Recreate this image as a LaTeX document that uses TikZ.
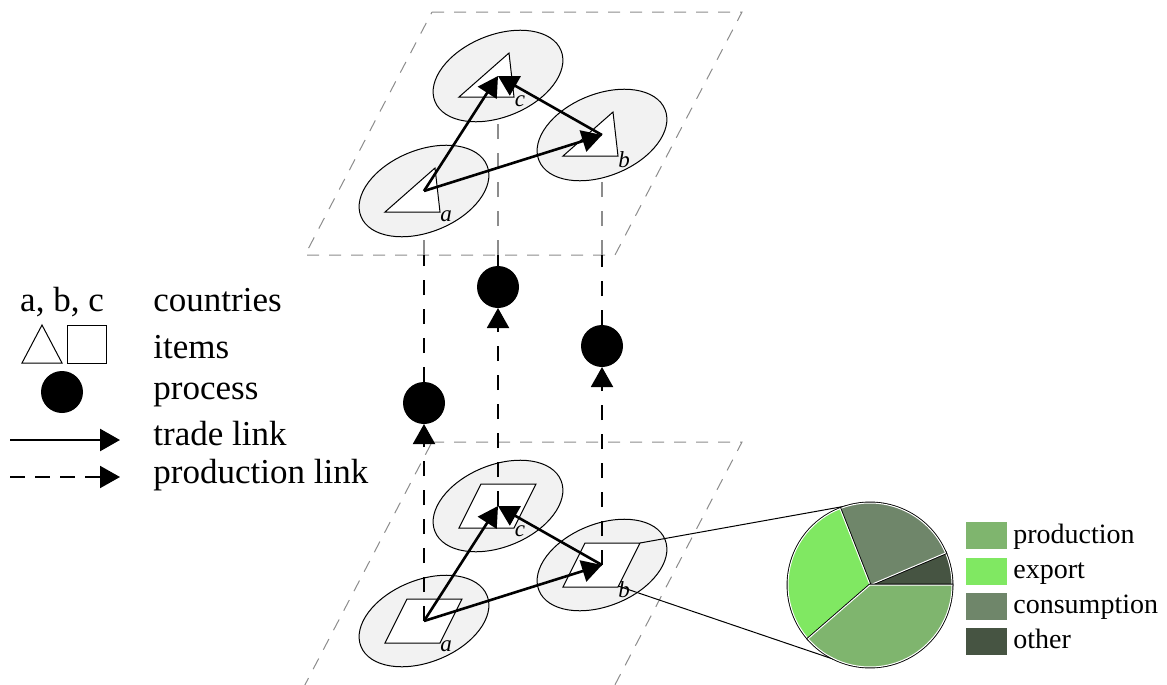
\documentclass[tikz,border=0pt]{standalone}
\usepackage{fontspec}
\setmainfont{Liberation Serif}
\usepackage{xcolor}
\usetikzlibrary{arrows.meta,shapes.geometric,calc}
\definecolor{planegray}{HTML}{8C8C8C}
\definecolor{ellfill}{HTML}{F2F2F2}
\definecolor{prodc}{HTML}{7FB56E}
\definecolor{expc}{HTML}{80E862}
\definecolor{consc}{HTML}{6F866A}
\definecolor{othc}{HTML}{465442}
\tikzset{
	plane/.style={planegray,line width=0.5pt,dash pattern=on 6pt off 5pt},
	country/.style={ellipse,draw,fill=ellfill,line width=0.5pt,minimum width=68pt,minimum height=41pt,inner sep=0pt,rotate=22},
	item/.style={draw,fill=white,line width=0.5pt},
	trade/.style={line width=1.3pt,-{Triangle[length=10pt,width=11pt]}},
	prodlink/.style={line width=1pt,dash pattern=on 7.5pt off 7pt},
	process/.style={circle,fill=black,minimum size=21pt,inner sep=0pt,outer sep=0pt},
	lbl/.style={font=\fontsize{11.5}{13}\selectfont\itshape,inner sep=0pt},
	legend/.style={font=\fontsize{17.5}{21}\selectfont,anchor=base west,inner sep=0pt},
	pielegend/.style={font=\fontsize{14}{16}\selectfont,anchor=base west,inner sep=0pt},
	slice/.style={draw=white,line width=0.5pt,preaction={draw=black,line width=1.4pt}},
}
\begin{document}
\begin{tikzpicture}[x=0.5pt,y=-0.5pt]
	\useasboundingbox (0,0) rectangle (1167,685);
	% the two layers
	\draw[plane] (432,12) -- (742,12) -- (615,255) -- (305,255) -- cycle;
	\draw[plane] (432,442) -- (742,442) -- (607,700) -- (297,700) -- cycle;
	\coordinate (ta) at (424,191);
	\coordinate (tb) at (602,135);
	\coordinate (tc) at (498,76);
	\coordinate (ba) at (424,621);
	\coordinate (bb) at (602,565);
	\coordinate (bc) at (498,506);
	\coordinate (ea) at (424,255);
	\coordinate (eb) at (602,255);
	\coordinate (ec) at (498,255);
	\node[process] (pa) at (424,403) {};
	\node[process] (pb) at (602,346) {};
	\node[process] (pc) at (498,287) {};
	\foreach \n in {a,b,c}
		\draw[prodlink,planegray] (e\n) -- (t\n);
	\foreach \n in {a,b,c}{
		\node[country] (ct\n) at (t\n) {};
		\node[country] (cb\n) at (b\n) {};
		\draw[item,shift={(t\n)}] (-39,21) -- (16,21) -- (11,-23) -- cycle;
		\draw[item,shift={(b\n)}] (-39,22) -- (16,22) -- (38,-22) -- (-17,-22) -- cycle;
		\node[lbl] (lt\n) at ([shift={(22,25)}]t\n) {\n};
		\node[lbl] (lb\n) at ([shift={(22,25)}]b\n) {\n};
	}
	\foreach \n in {a,b,c}{
		\draw[prodlink,-{Triangle[length=10pt,width=11pt]}] (b\n) -- (p\n);
		\draw[prodlink] (p\n) -- (e\n);
	}
	\draw[trade] (ta) -- (tc);
	\draw[trade] (ta) -- (tb);
	\draw[trade] (tb) -- (tc);
	\draw[trade] (ba) -- (bc);
	\draw[trade] (ba) -- (bb);
	\draw[trade] (bb) -- (bc);
	% legend
	\node[anchor=base,inner sep=0pt,font=\fontsize{17.5}{21}\selectfont] (lgabc) at (62,311) {a, b, c};
	\node[legend] (lgcountries) at (153,311) {countries};
	\draw[item] (22,363) -- (62,363) -- (42,325) -- cycle;
	\draw[item] (67,325) rectangle (106,363);
	\node[legend] (lgitems) at (153,358) {items};
	\node[process] (lgproc) at (62,392) {};
	\node[legend] (lgprocess) at (153,399) {process};
	\coordinate (lgta) at (10,440);
	\coordinate (lgtb) at (120,440);
	\draw[trade] (lgta) -- (lgtb);
	\node[legend] (lgtrade) at (153,445) {trade link};
	\coordinate (lgpa) at (10,477);
	\coordinate (lgpb) at (120,477);
	\draw[line width=1pt,dash pattern=on 7.5pt off 5pt,-{Triangle[length=10pt,width=11pt]}] (lgpa) -- (lgpb);
	\node[legend] (lgprod) at (153,483) {production link};
	% zoom on country b
	\coordinate (sbtr) at (640,543);
	\coordinate (sbbr) at (618,586);
	\node[circle,inner sep=0pt,outer sep=0pt,minimum size=82pt] (pie) at (870,585) {};
	\draw[line width=0.5pt] (sbtr) -- (tangent cs:node=pie,point={(sbtr)},solution=2);
	\draw[line width=0.5pt] (sbbr) -- (tangent cs:node=pie,point={(sbbr)},solution=1);
	\begin{scope}[shift={(pie.center)},x=1pt,y=1pt]
		\filldraw[slice,fill=othc] (0,0) -- (0:41) arc[start angle=0,end angle=23,radius=41] -- cycle;
		\filldraw[slice,fill=consc] (0,0) -- (23:41) arc[start angle=23,end angle=111.5,radius=41] -- cycle;
		\filldraw[slice,fill=expc] (0,0) -- (111.5:41) arc[start angle=111.5,end angle=221,radius=41] -- cycle;
		\filldraw[slice,fill=prodc] (0,0) -- (221:41) arc[start angle=221,end angle=360,radius=41] -- cycle;
	\end{scope}
	\fill[prodc] (966,522) rectangle (1007,549);
	\fill[expc] (966,558) rectangle (1007,585);
	\fill[consc] (966,593) rectangle (1007,620);
	\fill[othc] (966,628) rectangle (1007,655);
	\node[pielegend] (pgprod) at (1013,543) {production};
	\node[pielegend] (pgexp) at (1013,578) {export};
	\node[pielegend] (pgcons) at (1013,613) {consumption};
	\node[pielegend] (pgoth) at (1013,648) {other};
\end{tikzpicture}
\end{document}
